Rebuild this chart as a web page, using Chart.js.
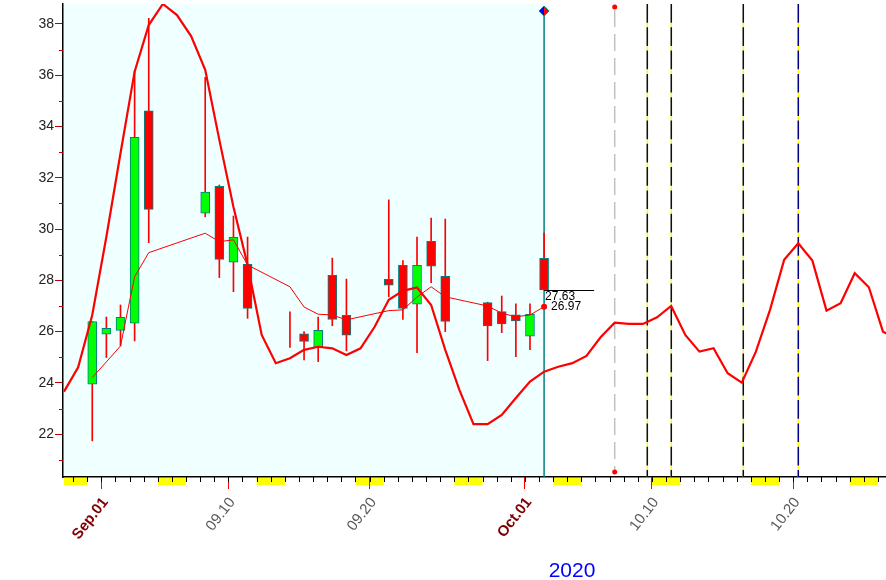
<!DOCTYPE html>
<html>
<head>
<meta charset="utf-8">
<script src="https://cdn.jsdelivr.net/npm/chart.js@4"></script>
<style>
  html, body { margin: 0; padding: 0; background: #fff; }
  #wrap { width: 886px; height: 580px; }
</style>
</head>
<body>
<div id="wrap"><canvas id="chart"></canvas></div>
<script>
// 日足データ (ローソク足)
const candleDates = ['2020-08-31', '2020-09-01', '2020-09-02', '2020-09-03', '2020-09-04',
  '2020-09-08', '2020-09-09', '2020-09-10', '2020-09-11',
  '2020-09-14', '2020-09-15', '2020-09-16', '2020-09-17', '2020-09-18',
  '2020-09-21', '2020-09-22', '2020-09-23', '2020-09-24', '2020-09-25',
  '2020-09-28', '2020-09-29', '2020-09-30', '2020-10-01', '2020-10-02'];
const openVals  = [23.95, 25.90, 26.05, 26.33, 34.61, 30.62, 31.67, 28.71, 28.63, 26.10, 25.91, 25.38, 28.20, 26.64, 28.04, 28.59, 27.07, 29.52, 28.16, 27.13, 26.78, 26.66, 25.82, 28.86];
const closeVals = [26.39, 26.13, 26.56, 33.58, 30.77, 31.44, 28.82, 29.68, 26.91, 26.10, 25.62, 26.05, 26.48, 25.86, 27.81, 26.91, 28.59, 28.55, 26.40, 26.22, 26.30, 26.42, 26.68, 27.63];
const highVals  = [26.40, 26.57, 27.04, 36.14, 38.22, 35.92, 31.72, 30.51, 29.69, 26.77, 26.00, 26.57, 28.87, 28.05, 31.14, 28.77, 29.69, 30.43, 30.39, 27.15, 27.39, 27.08, 27.08, 29.84];
const lowVals   = [21.74, 24.99, 25.45, 25.64, 29.47, 30.48, 28.11, 27.56, 26.52, 25.38, 24.90, 24.83, 26.23, 25.25, 27.36, 26.48, 25.18, 27.91, 26.00, 24.87, 25.96, 25.02, 25.30, 27.63];
// 移動平均 (細線)
const maVals = [24.21, 24.82, 25.44, 28.14, 29.08, 29.84, 29.51, 29.58, 28.60, 27.75, 26.96, 26.68, 26.65, 26.46, 26.82, 26.85, 27.35, 27.75, 27.36, 27.00, 26.72, 26.58, 26.65, 26.97];

// サイクル曲線 (太線) 2020-08-29 から毎日
const cycleStart = '2020-08-29';
const cycleVals = [23.66, 24.61, 26.65, 29.70, 32.96, 36.14, 37.96, 38.78, 38.35, 37.53,
  36.21, 33.48, 30.86, 28.60, 25.87, 24.77, 24.96, 25.29, 25.41, 25.35,
  25.09, 25.35, 26.19, 27.24, 27.59, 27.72, 27.04, 25.29, 23.73, 22.39,
  22.39, 22.75, 23.41, 24.05, 24.44, 24.63, 24.77, 25.05, 25.78, 26.35,
  26.30, 26.30, 26.56, 27.00, 25.87, 25.22, 25.35, 24.38, 24.01, 25.22,
  26.85, 28.80, 29.45, 28.77, 26.82, 27.11, 28.28, 27.73, 26.00, 25.70];

// 縦線
const todayDate = '2020-10-02';
const greyLineDate = '2020-10-07';
const cycleLines = ['2020-10-09T16:03', '2020-10-11T08:50', '2020-10-16T11:12', '2020-10-20T08:43'];

const yTickValues = [21, 22, 23, 24, 25, 26, 27, 28, 29, 30, 31, 32, 33, 34, 35, 36, 37, 38];
const monthNames = ['Jan', 'Feb', 'Mar', 'Apr', 'May', 'Jun', 'Jul', 'Aug', 'Sep', 'Oct', 'Nov', 'Dec'];
const yearLabel = '2020';

const CENTER = 0.36;   // 足の中心 (日の中での位置)
const BASE = Date.UTC(2020, 8, 1);
const FONT = "'Liberation Sans', Arial, sans-serif";

function dayNum(s) {
  const [date, time] = s.split('T');
  const [y, m, d] = date.split('-').map(Number);
  let t = Date.UTC(y, m - 1, d);
  if (time) {
    const [h, mi] = time.split(':').map(Number);
    t += (h * 60 + mi) * 60000;
  }
  return (t - BASE) / 86400000;
}
function dateOf(d) { return new Date(BASE + Math.round(d) * 86400000); }
function pad(n) { return (n < 10 ? '0' : '') + n; }
function tickLabel(v) {
  const dt = dateOf(v);
  const day = dt.getUTCDate();
  if (day === 1) return monthNames[dt.getUTCMonth()] + '.01';
  if (day === 10 || day === 20) return pad(dt.getUTCMonth() + 1) + '.' + pad(day);
  return '';
}
function tickOf(c) { return c && c.tick ? c.tick.value : null; }
function isMonthTick(c) { const v = tickOf(c); return v !== null && tickLabel(v).indexOf('.01') > 0; }

const cx = candleDates.map(s => dayNum(s) + CENTER);
const bodyData = cx.map((x, i) => ({ x: x, y: [openVals[i], closeVals[i]] }));
const wickData = cx.map((x, i) => ({ x: x, y: [lowVals[i], highVals[i]] }));
const maData = cx.map((x, i) => ({ x: x, y: maVals[i] }));
const cycleData = cycleVals.map((v, i) => ({ x: dayNum(cycleStart) + i + CENTER, y: v }));

const overlay = {
  id: 'overlay',
  beforeDraw(chart) {
    const { ctx, chartArea: a, scales: { x } } = chart;
    ctx.save();
    ctx.fillStyle = '#fff';
    ctx.fillRect(0, 0, chart.width, chart.height);
    const xt = x.getPixelForValue(dayNum(todayDate) + CENTER);
    ctx.fillStyle = '#F0FFFF';
    ctx.fillRect(a.left, a.top, xt - a.left, a.bottom - a.top);
    // 週末
    ctx.beginPath();
    ctx.rect(a.left + 1, 0, a.right - a.left, chart.height);
    ctx.clip();
    ctx.fillStyle = '#FFFF00';
    for (let d = -4; d <= 57; d++) {
      const wd = dateOf(d).getUTCDay();
      if (wd === 0 || wd === 6) {
        const x0 = x.getPixelForValue(d), x1 = x.getPixelForValue(d + 1);
        ctx.fillRect(x0, a.bottom + 1, x1 - x0, 7);
      }
    }
    ctx.restore();
  },
  beforeDatasetsDraw(chart) {
    const { ctx, chartArea: a, scales: { x } } = chart;
    ctx.save();
    // 今日の線
    const xt = x.getPixelForValue(dayNum(todayDate) + CENTER);
    ctx.strokeStyle = '#008080';
    ctx.lineWidth = 1.5;
    ctx.beginPath(); ctx.moveTo(xt, a.top + 7); ctx.lineTo(xt, a.bottom); ctx.stroke();
    // 灰色の破線
    const xg = x.getPixelForValue(dayNum(greyLineDate) + CENTER);
    ctx.strokeStyle = '#C0C0C0';
    ctx.setLineDash([17, 7]);
    ctx.beginPath(); ctx.moveTo(xg, a.top + 6); ctx.lineTo(xg, a.bottom - 5); ctx.stroke();
    // サイクル線
    cycleLines.forEach(s => {
      const xl = x.getPixelForValue(dayNum(s));
      ctx.setLineDash([]);
      ctx.strokeStyle = '#FFFF00';
      ctx.beginPath(); ctx.moveTo(xl, a.top); ctx.lineTo(xl, a.bottom); ctx.stroke();
      ctx.setLineDash([18.7, 4.6]);
      ctx.strokeStyle = '#000080';
      ctx.beginPath(); ctx.moveTo(xl, a.top); ctx.lineTo(xl, a.bottom); ctx.stroke();
    });
    ctx.restore();
  },
  afterDatasetsDraw(chart) {
    const { ctx, chartArea: a, scales: { x, y } } = chart;
    ctx.save();
    const xg = x.getPixelForValue(dayNum(greyLineDate) + CENTER);
    ctx.fillStyle = '#FF0000';
    [a.top + 3, a.bottom - 5].forEach(py => {
      ctx.beginPath(); ctx.arc(xg, py, 2.5, 0, Math.PI * 2); ctx.fill();
    });
    // ひし形
    const xt = x.getPixelForValue(dayNum(todayDate) + CENTER);
    const dy = a.top + 7, r = 5;
    ctx.fillStyle = '#0000FF';
    ctx.beginPath(); ctx.moveTo(xt, dy - r); ctx.lineTo(xt - r, dy); ctx.lineTo(xt, dy + r); ctx.closePath(); ctx.fill();
    ctx.fillStyle = '#FF0000';
    ctx.beginPath(); ctx.moveTo(xt, dy - r); ctx.lineTo(xt + r, dy); ctx.lineTo(xt, dy + r); ctx.closePath(); ctx.fill();
    ctx.strokeStyle = '#008080'; ctx.lineWidth = 1;
    ctx.beginPath(); ctx.moveTo(xt, dy - r); ctx.lineTo(xt - r, dy); ctx.lineTo(xt, dy + r); ctx.lineTo(xt + r, dy); ctx.closePath(); ctx.stroke();
    // 終値と移動平均の表示
    const last = closeVals.length - 1;
    const px = x.getPixelForValue(cx[last]);
    const yc = y.getPixelForValue(closeVals[last]);
    const ym = y.getPixelForValue(maVals[last]);
    ctx.strokeStyle = '#000'; ctx.lineWidth = 1;
    ctx.beginPath(); ctx.moveTo(px, Math.round(yc) + 0.5); ctx.lineTo(px + 50, Math.round(yc) + 0.5); ctx.stroke();
    ctx.fillStyle = '#FF0000';
    ctx.beginPath(); ctx.arc(px, ym, 3, 0, Math.PI * 2); ctx.fill();
    ctx.font = '12px ' + FONT;
    ctx.fillStyle = '#000';
    ctx.textBaseline = 'middle';
    ctx.fillText(closeVals[last].toFixed(2), px + 1, yc + 7);
    ctx.fillText(maVals[last].toFixed(2), px + 7, ym - 0.5);
    ctx.restore();
  },
  afterDraw(chart) {
    const { ctx, chartArea: a, scales: { x, y } } = chart;
    ctx.save();
    ctx.strokeStyle = '#000'; ctx.lineWidth = 1;
    for (let d = -2; d <= 55; d++) {
      const px = Math.round(x.getPixelForValue(d)) + 0.5;
      ctx.beginPath(); ctx.moveTo(px, a.bottom); ctx.lineTo(px, a.bottom + 5); ctx.stroke();
    }
    ctx.strokeStyle = '#C00000';
    yTickValues.forEach(v => {
      if (v % 2 === 1) {
        const py = Math.round(y.getPixelForValue(v)) + 0.5;
        ctx.beginPath(); ctx.moveTo(a.left - 4, py); ctx.lineTo(a.left, py); ctx.stroke();
      }
    });
    ctx.font = '21px ' + FONT;
    ctx.fillStyle = '#0000FF';
    ctx.textAlign = 'center';
    ctx.textBaseline = 'alphabetic';
    ctx.fillText(yearLabel, 572, 577);
    ctx.restore();
  }
};

const ctx = document.getElementById('chart').getContext('2d');
const chart = new Chart(ctx, {
  type: 'line',
  data: {
    datasets: [
      { type: 'line', data: cycleData, borderColor: '#FF0000', borderWidth: 2.2, pointRadius: 0, tension: 0, order: 0 },
      { type: 'line', data: maData, borderColor: '#FF0000', borderWidth: 1, pointRadius: 0, tension: 0, order: 1 },
      { type: 'bar', data: bodyData, grouped: false, barThickness: 9,
        backgroundColor: closeVals.map((c, i) => c >= openVals[i] ? '#00FF00' : '#FF0000'),
        borderColor: '#008080', borderWidth: 1, borderSkipped: false, order: 2 },
      { type: 'bar', data: wickData, grouped: false, barThickness: 1,
        backgroundColor: '#FF0000', borderWidth: 0, order: 3 }
    ]
  },
  options: {
    responsive: true,
    maintainAspectRatio: false,
    animation: false,
    layout: { padding: { top: 4, right: 0, left: 0, bottom: 0 } },
    plugins: { legend: { display: false }, tooltip: { enabled: false } },
    scales: {
      x: {
        type: 'linear',
        min: -2.712,
        max: 55.574,
        offset: false,
        afterBuildTicks: (scale) => {
          const t = [];
          for (let d = -2; d <= 55; d++) t.push({ value: d });
          scale.ticks = t;
        },
        afterFit: (scale) => {
          scale.height = 103;
          scale.paddingLeft = 0;
          scale.paddingRight = 0;
        },
        grid: {
          offset: false,
          drawOnChartArea: false,
          drawTicks: true,
          tickLength: 12,
          tickWidth: 1,
          tickColor: (c) => { const v = tickOf(c); return v !== null && tickLabel(v) ? '#FF0000' : 'rgba(0,0,0,0)'; }
        },
        border: { display: true, color: '#000', width: 1.5 },
        ticks: {
          autoSkip: false,
          minRotation: 52,
          maxRotation: 52,
          padding: 5,
          labelOffset: 4,
          callback: (v) => tickLabel(v),
          color: (c) => isMonthTick(c) ? '#800000' : '#5A5A5A',
          font: (c) => ({ family: FONT, size: 15, weight: isMonthTick(c) ? 'bold' : 'normal' })
        }
      },
      y: {
        type: 'linear',
        min: 20.33,
        max: 38.78,
        beginAtZero: false,
        afterBuildTicks: (scale) => {
          scale.ticks = yTickValues.map(v => ({ value: v }));
        },
        afterFit: (scale) => {
          scale.width = 63;
          scale.paddingTop = 0;
          scale.paddingBottom = 0;
        },
        grid: {
          drawOnChartArea: false,
          drawTicks: true,
          tickLength: 8,
          tickWidth: 1,
          tickColor: (c) => { const v = tickOf(c); return v !== null && v % 2 === 0 ? '#C00000' : 'rgba(0,0,0,0)'; }
        },
        border: { display: true, color: '#000', width: 1.5 },
        ticks: {
          padding: 1,
          color: '#222',
          font: { family: FONT, size: 14 },
          callback: (v) => v % 2 === 0 ? String(v) : ''
        }
      }
    }
  },
  plugins: [overlay]
});
</script>
</body>
</html>
